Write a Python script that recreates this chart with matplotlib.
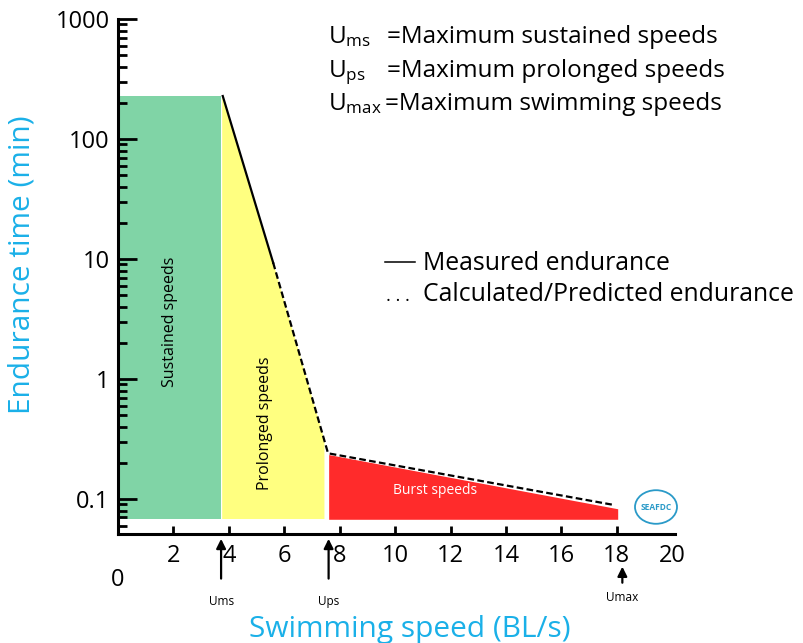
import numpy as np
import matplotlib.pyplot as plt
from matplotlib.patches import Polygon, Circle
from matplotlib.lines import Line2D
from matplotlib.ticker import FixedLocator, FixedFormatter, NullFormatter

plt.rcParams['font.family'] = ['Open Sans', 'DejaVu Sans']
plt.rcParams['mathtext.fontset'] = 'custom'
plt.rcParams['mathtext.rm'] = 'Open Sans'
plt.rcParams['mathtext.it'] = 'Open Sans:italic'

# zones (swimming speed BL/s, endurance min)
sustained_x = [0.05, 0.05, 3.72, 3.72]
sustained_y = [0.068, 228, 228, 0.068]
prolonged_x = [3.76, 3.76, 5.6, 7.45, 7.45]
prolonged_y = [0.068, 228, 9.3, 0.31, 0.068]
burst_x = [7.62, 7.62, 18.05, 18.05]
burst_y = [0.067, 0.232, 0.082, 0.067]

measured_x = [3.78, 5.6]
measured_y = [228, 9.3]
predicted_x = [5.6, 7.58, 17.9]
predicted_y = [9.3, 0.24, 0.089]

xticks = [2, 4, 6, 8, 10, 12, 14, 16, 18, 20]
yticks = [0.1, 1, 10, 100, 1000]
ytick_labels = ['0.1', '1', '10', '100', '1000']

markers = ['Ums', 'Ups', 'Umax']
marker_x = [3.72, 7.6, 18.2]

W, H = 804, 643
def fx(px):
    return px / W
def fy(py):
    return 1 - py / H

fig = plt.figure(figsize=(8.04, 6.43), dpi=100)
ax = fig.add_axes([fx(118), fy(534), (675 - 118) / W, (534 - 19) / H])
ax.set_yscale('log')
ax.set_xlim(0, 20.1)
ax.set_ylim(0.051, 1000)

ax.add_patch(Polygon(list(zip(sustained_x, sustained_y)), closed=True,
                     facecolor='#80d4a6', edgecolor='none', zorder=1))
ax.add_patch(Polygon(list(zip(prolonged_x, prolonged_y)), closed=True,
                     facecolor='#ffff80', edgecolor='none', zorder=1))
ax.add_patch(Polygon(list(zip(burst_x, burst_y)), closed=True,
                     facecolor='#ff2b2b', edgecolor='none', zorder=1))

ax.plot(measured_x, measured_y, color='black', lw=1.6, zorder=3)
ax.plot(predicted_x, predicted_y, color='black', lw=1.6, ls=(0, (3, 1.5)), zorder=3)

ax.text(1.86, 3.0, 'Sustained speeds', rotation=90, ha='center', va='center', fontsize=11.5)
ax.text(5.32, 0.43, 'Prolonged speeds', rotation=90, ha='center', va='center', fontsize=11.5)
ax.text(11.45, 0.117, 'Burst speeds', color='white', ha='center', va='center', fontsize=10)

for side in ['top', 'right']:
    ax.spines[side].set_visible(False)
for side in ['left', 'bottom']:
    ax.spines[side].set_linewidth(2.2)

ax.yaxis.set_major_locator(FixedLocator(yticks))
ax.yaxis.set_major_formatter(FixedFormatter(ytick_labels))
ax.yaxis.set_minor_formatter(NullFormatter())
ax.tick_params(axis='y', which='major', direction='in', length=14, width=2, labelsize=17, pad=6)
ax.tick_params(axis='y', which='minor', direction='in', length=6.5, width=2)
ax.set_xticks(xticks)
ax.set_xticklabels([str(t) for t in xticks])
ax.tick_params(axis='x', which='major', direction='in', length=6, width=2, labelsize=17, pad=7)
ax.xaxis.get_major_ticks()[-1].tick1line.set_visible(False)
ax.set_facecolor('none')

fig.text(fx(118), fy(580), '0', ha='center', va='center', fontsize=17)

for name, xv in zip(markers, marker_x):
    if name == 'Umax':
        start, end, ly = -0.1, -0.058, -0.124
    else:
        start, end, ly = -0.092, -0.004, -0.131
    ax.annotate('', xy=(xv, end), xytext=(xv, start),
                xycoords=('data', 'axes fraction'), textcoords=('data', 'axes fraction'),
                arrowprops=dict(arrowstyle='-|>', color='black', lw=1.6, mutation_scale=14))
    ax.text(xv, ly, name, transform=ax.get_xaxis_transform(), ha='center', va='center',
            fontsize=8.5)

fig.text(fx(22), fy(265), 'Endurance time (min)', rotation=90, ha='center', va='center',
         fontsize=21.5, color='#1ab0e8')
fig.text(fx(410), fy(630), 'Swimming speed (BL/s)', ha='center', va='center',
         fontsize=21.5, color='#1ab0e8')

# definitions
defs = [(r'$\mathrm{U}_{\mathrm{ms}}$', '=Maximum sustained speeds', 387, 43),
        (r'$\mathrm{U}_{\mathrm{ps}}$', '=Maximum prolonged speeds', 387, 77),
        (r'$\mathrm{U}_{\mathrm{max}}$', '=Maximum swimming speeds', 385, 110)]
for sym, desc, xd, yb in defs:
    fig.text(fx(328), fy(yb), sym, ha='left', va='baseline', fontsize=17.5)
    fig.text(fx(xd), fy(yb), desc, ha='left', va='baseline', fontsize=17.5)

fig.add_artist(Line2D([fx(385), fx(415)], [fy(262), fy(262)], transform=fig.transFigure,
                      color='black', lw=1.1))
fig.text(fx(423), fy(270), 'Measured endurance', ha='left', va='baseline', fontsize=17.8)
fig.text(fx(386), fy(301), '. . .', ha='left', va='baseline', fontsize=13)
fig.text(fx(423), fy(301), 'Calculated/Predicted endurance', ha='left', va='baseline', fontsize=17.8)

# logo
logo = Circle((fx(656), fy(507)), 21 / W, transform=fig.transFigure, facecolor='none',
              edgecolor='#2a9ac8', lw=1.3)
fig.add_artist(logo)
fig.text(fx(656), fy(507), 'SEAFDC', ha='center', va='center', fontsize=6,
         color='#2a9ac8', fontweight='bold')

fig.savefig('out.png', dpi=100)
